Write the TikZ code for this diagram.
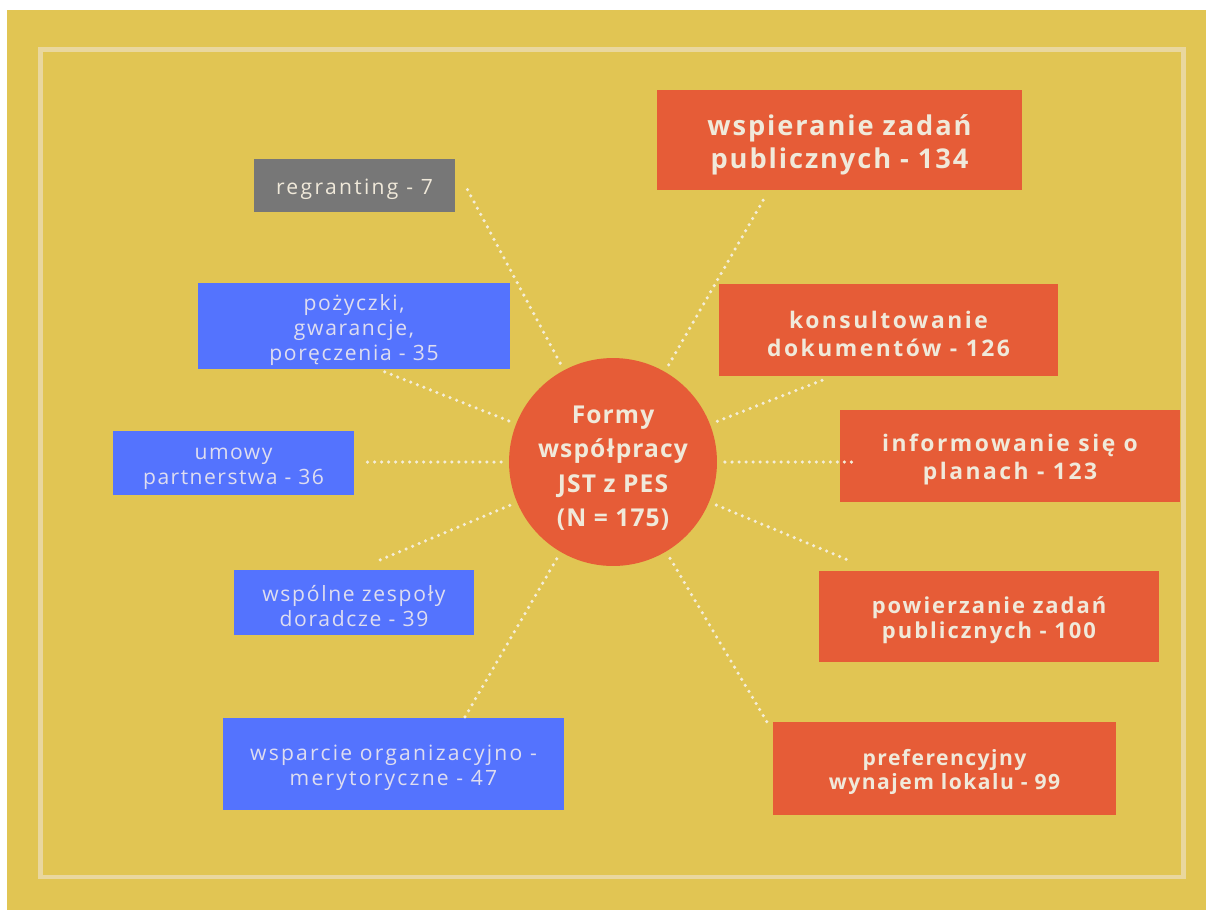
\documentclass[tikz,border=0pt]{standalone}
\usepackage{fontspec}
\setmainfont{Open Sans}
\usetikzlibrary{positioning}

\definecolor{tlo}{HTML}{E1C553}
\definecolor{ramka}{HTML}{E9D79E}
\definecolor{pomar}{HTML}{E65C37}
\definecolor{nieb}{HTML}{5473FE}
\definecolor{szary}{HTML}{777777}
\definecolor{krem}{HTML}{F0E9DA}
\definecolor{liliowy}{HTML}{DEDDF0}
\definecolor{kropka}{HTML}{F4EDD8}

\newcommand{\odstep}[1]{\addfontfeature{LetterSpace=#1}}
\newcommand{\gora}{\rule{0pt}{1.1em}}

\tikzset{
  pole/.style={rectangle, inner sep=0pt, outer sep=0pt, align=center},
  pomarpole/.style={pole, fill=pomar, text=krem},
  niebpole/.style={pole, fill=nieb, text=liliowy},
  szarepole/.style={pole, fill=szary, text=krem},
  kropki/.style={draw=kropka, line width=2pt, line cap=round, dash pattern=on 0pt off 4pt, shorten <=0.16cm}
}

\begin{document}
\begin{tikzpicture}[x=0.02cm, y=-0.02cm]
\useasboundingbox (0,0) rectangle (1206,910);
\fill[white] (0,0) rectangle (1206,910);
\fill[tlo] (7,10) rectangle (1206,910);
\draw[ramka, line width=2.4pt] (40.5,49.5) rectangle (1183.5,877);

\node[circle, fill=pomar, minimum size=4.16cm, inner sep=0pt, outer sep=0pt, text=krem, align=center, font=\bfseries\fontsize{14}{19.5}\selectfont\odstep{4.5}] (formy) at (613,462) {\rule{0pt}{17pt}Formy\\współpracy\\JST z PES\\(N = 175)};

\node[szarepole, minimum width=4.02cm, minimum height=1.06cm, font=\fontsize{12}{14.2}\selectfont\odstep{11}] (regranting) at (354.5,185.5) {\gora regranting - 7};
\node[niebpole, minimum width=6.24cm, minimum height=1.72cm, font=\fontsize{12}{14.2}\selectfont\odstep{8}] (pozyczki) at (354,326) {\gora pożyczki,\\gwarancje,\\poręczenia - 35};
\node[niebpole, minimum width=4.82cm, minimum height=1.28cm, font=\fontsize{12}{14.2}\selectfont\odstep{7}] (umowy) at (233.5,463) {\gora umowy\\partnerstwa - 36};
\node[niebpole, minimum width=4.8cm, minimum height=1.3cm, font=\fontsize{12}{14.2}\selectfont\odstep{8}] (zespoly) at (354,602.5) {\gora wspólne zespoły\\doradcze - 39};
\node[niebpole, minimum width=6.82cm, minimum height=1.84cm, font=\fontsize{12}{14.2}\selectfont\odstep{10.5}] (wsparcie) at (393.5,764) {\gora wsparcie organizacyjno -\\merytoryczne - 47};

\node[pomarpole, minimum width=7.3cm, minimum height=2cm, font=\bfseries\fontsize{15.5}{18.7}\selectfont\odstep{7}] (wspieranie) at (839.5,140) {\gora wspieranie zadań\\publicznych - 134};
\node[pomarpole, minimum width=6.78cm, minimum height=1.84cm, font=\bfseries\fontsize{13}{16.4}\selectfont\odstep{11}] (konsultowanie) at (888.5,330) {\gora konsultowanie\\dokumentów - 126};
\node[pomarpole, minimum width=6.8cm, minimum height=1.84cm, font=\bfseries\fontsize{13}{16}\selectfont\odstep{11}] (informowanie) at (1010,455.5) {\gora informowanie się o\\planach - 123};
\node[pomarpole, minimum width=6.8cm, minimum height=1.82cm, font=\bfseries\fontsize{12.5}{14.5}\selectfont\odstep{9}] (powierzanie) at (989,616.5) {\gora powierzanie zadań\\publicznych - 100};
\node[pomarpole, minimum width=6.86cm, minimum height=1.86cm, font=\bfseries\fontsize{12}{14}\selectfont\odstep{7}] (lokal) at (944.5,768.5) {\gora preferencyjny\\wynajem lokalu - 99};

\coordinate (k1) at (465,185);
\coordinate (k2) at (380,370);
\coordinate (k3) at (362,462);
\coordinate (k4) at (380,560);
\coordinate (k5) at (462,722);
\coordinate (k6) at (765,197);
\coordinate (k7) at (828,378);
\coordinate (k8) at (855,462);
\coordinate (k9) at (848,560);
\coordinate (k10) at (770,727);

\draw[kropki] (formy) -- (k1);
\draw[kropki] (formy) -- (k2);
\draw[kropki] (formy) -- (k3);
\draw[kropki] (formy) -- (k4);
\draw[kropki] (formy) -- (k5);
\draw[kropki] (formy) -- (k6);
\draw[kropki] (formy) -- (k7);
\draw[kropki] (formy) -- (k8);
\draw[kropki] (formy) -- (k9);
\draw[kropki] (formy) -- (k10);

\end{tikzpicture}
\end{document}
